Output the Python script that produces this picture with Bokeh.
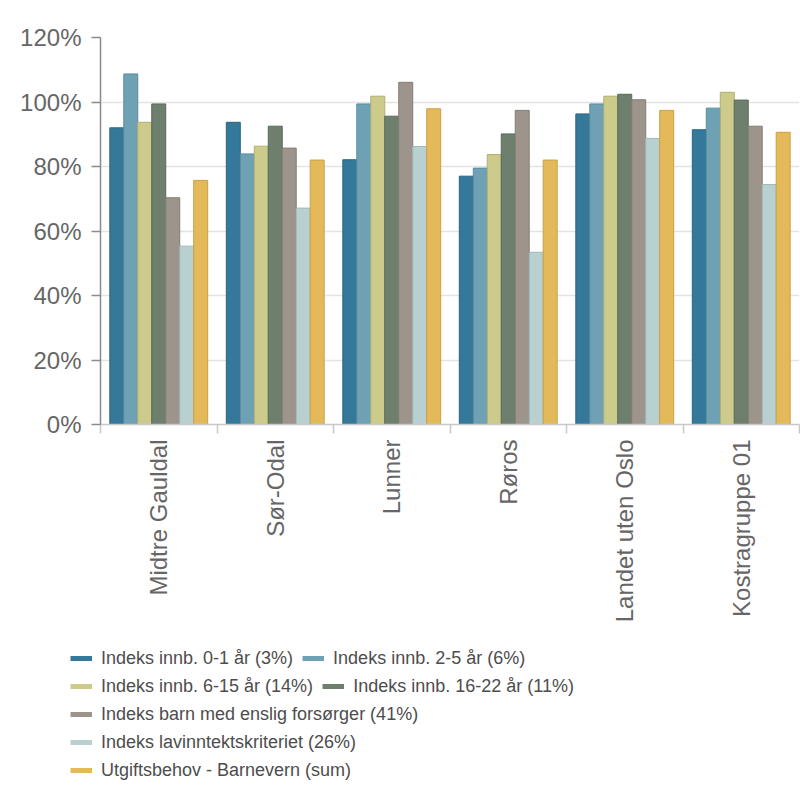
import math
from bokeh.plotting import figure
from bokeh.layouts import column
from bokeh.models import (Range1d, LinearAxis, FixedTicker,
                          PrintfTickFormatter, Legend, LegendItem, ColumnDataSource)
from bokeh.transform import dodge
from bokeh.embed import file_html
from bokeh.resources import INLINE

categories = ["Midtre Gauldal", "Sør-Odal", "Lunner", "Røros", "Landet uten Oslo", "Kostragruppe 01"]
series_names = [
    "Indeks innb. 0-1 år (3%)",
    "Indeks innb. 2-5 år (6%)",
    "Indeks innb. 6-15 år (14%)",
    "Indeks innb. 16-22 år (11%)",
    "Indeks barn med enslig forsørger (41%)",
    "Indeks lavinntektskriteriet (26%)",
    "Utgiftsbehov - Barnevern (sum)",
]
idx_0_1 = [92.0, 93.7, 82.1, 77.0, 96.3, 91.4]
idx_2_5 = [108.7, 83.9, 99.4, 79.5, 99.4, 98.1]
idx_6_15 = [93.7, 86.3, 101.8, 83.7, 101.8, 103.0]
idx_16_22 = [99.4, 92.5, 95.6, 90.1, 102.4, 100.6]
idx_enslig = [70.3, 85.7, 106.1, 97.4, 100.7, 92.5]
idx_lavinntekt = [55.3, 67.1, 86.2, 53.4, 88.7, 74.4]
utgiftsbehov = [75.7, 82.0, 97.9, 82.0, 97.4, 90.6]
y_ticks = [0, 20, 40, 60, 80, 100, 120]

series_values = [idx_0_1, idx_2_5, idx_6_15, idx_16_22, idx_enslig, idx_lavinntekt, utgiftsbehov]
fill_colors = ["#35799a", "#6fa1b5", "#cccb8b", "#6e806d", "#9d958b", "#b9d0d1", "#e4b95a"]
line_colors = ["#2a6480", "#5a8ca0", "#b0af70", "#586a58", "#857d73", "#9fb8b9", "#c9a045"]

FONT = "Liberation Sans"
AX_TXT = "24px"
LEG_TXT = "18px"

ncat = len(categories)
centers = [i + 0.5 for i in range(ncat)]
bounds = list(range(ncat + 1))

MAIN_H = 640
p = figure(x_range=Range1d(0, ncat), y_range=Range1d(0, 120),
           width=800, height=MAIN_H, output_backend="svg", toolbar_location=None,
           x_axis_location=None, min_border_left=100, min_border_top=37,
           min_border_right=1, min_border_bottom=MAIN_H - 424)
p.frame_align = False
p.outline_line_color = None
p.xgrid.visible = False
p.ygrid.grid_line_color = "#e3e3e3"
p.ygrid.grid_line_width = 1.5
p.ygrid.ticker = FixedTicker(ticks=y_ticks)

yax = p.yaxis[0]
yax.ticker = FixedTicker(ticks=y_ticks, minor_ticks=[])
yax.formatter = PrintfTickFormatter(format="%d%%")
yax.major_tick_out = 9
yax.major_tick_in = 0
yax.minor_tick_line_color = None
yax.axis_line_color = "#8a8a8a"
yax.axis_line_width = 1.5
yax.major_tick_line_color = "#8a8a8a"
yax.major_tick_line_width = 1.5
yax.major_label_text_font = FONT
yax.major_label_text_font_size = AX_TXT
yax.major_label_text_color = "#666666"
yax.major_label_standoff = 10

cat_axis = LinearAxis(ticker=FixedTicker(ticks=centers, minor_ticks=bounds),
                      major_label_overrides={c: name for c, name in zip(centers, categories)},
                      axis_line_color="#c8c8c8", axis_line_width=1.5,
                      major_tick_line_color=None, major_tick_out=9, major_tick_in=0,
                      minor_tick_line_color="#c8c8c8", minor_tick_line_width=1.5,
                      minor_tick_out=9, minor_tick_in=0,
                      major_label_orientation=math.pi / 2,
                      major_label_text_font=FONT, major_label_text_font_size=AX_TXT,
                      major_label_text_color="#666666", major_label_standoff=6)
p.add_layout(cat_axis, "below")

data = {"x": centers}
for i, vals in enumerate(series_values):
    data[f"s{i}"] = vals
source = ColumnDataSource(data)

n = len(series_values)
bar_w = 0.12
for i in range(n):
    p.vbar(x=dodge("x", (i - (n - 1) / 2) * bar_w), top=f"s{i}", bottom=0,
           width=bar_w, source=source, fill_color=fill_colors[i], line_color=line_colors[i],
           line_width=1)

# ---- legend panel (separate figure below the chart) ----
LEG_H = 165
q = figure(x_range=Range1d(0, 1), y_range=Range1d(0, 1), width=800, height=LEG_H,
           output_backend="svg", toolbar_location=None,
           x_axis_location=None, y_axis_location=None, min_border=0,
           min_border_left=0, min_border_right=0, min_border_top=0, min_border_bottom=0)
q.frame_align = False
q.outline_line_color = None
q.grid.visible = False

# swatch renderers: one undrawable (NaN) point each, used only for the legend glyphs
legend_renderers = []
for i in range(n):
    r = q.line(x=[float("nan")], y=[float("nan")], line_color=fill_colors[i], line_width=5)
    legend_renderers.append(r)

rows = [[0, 1], [2, 3], [4], [5], [6]]
ROW_H = 28
first_top = 644 - MAIN_H
for ri, row in enumerate(rows):
    bottom_from_top = first_top + ROW_H * (ri + 1)
    leg = Legend(items=[LegendItem(label=series_names[i], renderers=[legend_renderers[i]]) for i in row],
                 orientation="horizontal", location=(70, LEG_H - bottom_from_top),
                 padding=0, spacing=9, margin=0,
                 glyph_width=22, glyph_height=ROW_H,
                 label_standoff=9, label_height=ROW_H,
                 label_text_font=FONT, label_text_font_size=LEG_TXT, label_text_color="#4d4d4d",
                 border_line_color=None, background_fill_alpha=0)
    q.add_layout(leg, "center")

layout = column(p, q, spacing=0)
open("out.html", "w").write(file_html(layout, INLINE))
